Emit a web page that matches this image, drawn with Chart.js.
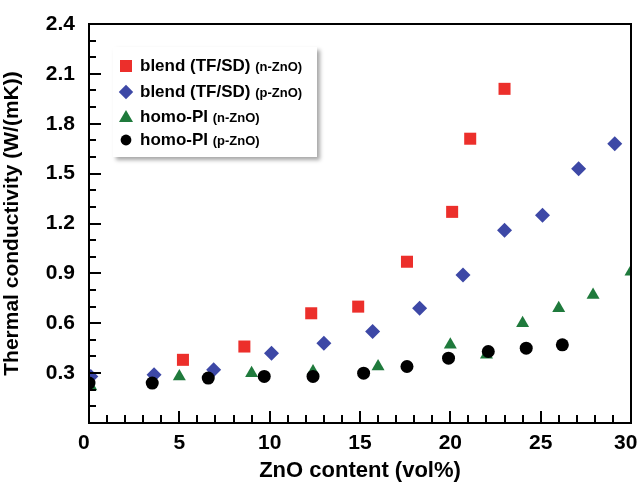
<!DOCTYPE html>
<html>
<head>
<meta charset="utf-8">
<script src="https://cdn.jsdelivr.net/npm/chart.js@4"></script>
<style>
  body { margin: 0; background: #fff; }
  #frame { position: absolute; box-sizing: border-box; border: 2px solid #000; pointer-events: none; }
  .tk { position: absolute; background: #000; pointer-events: none; }
  #legend {
    position: absolute; left: 113px; top: 47px; width: 204px; height: 110px;
    background: #fff; box-shadow: 3px 3px 4px rgba(0,0,0,0.35);
    font-family: "Liberation Sans", Arial, sans-serif; font-weight: bold; color: #000;
  }
  .row { position: absolute; left: 0; height: 20px; line-height: 20px; font-size: 17px; white-space: nowrap; }
  .row small { font-size: 13px; }
  .mk { position: absolute; left: 7px; top: 4px; width: 12px; height: 12px; }
  .row span.t { position: absolute; left: 27px; }
</style>
</head>
<body>
<canvas id="tcChart" width="640" height="484"></canvas>
<div id="frame"></div>
<div id="ticks"></div>
<div id="legend"></div>
<script>
// ZnO content (vol%) and thermal conductivity W/(mK)
const blendNX = [0, 5.2, 8.6, 12.3, 14.9, 17.6, 20.1, 21.1, 23.0];
const blendNY = [0.27, 0.38, 0.46, 0.66, 0.70, 0.97, 1.27, 1.71, 2.01];

const blendPX = [0.1, 3.6, 6.9, 10.1, 13.0, 15.7, 18.3, 20.7, 23.0, 25.1, 27.1, 29.1];
const blendPY = [0.28, 0.29, 0.32, 0.42, 0.48, 0.55, 0.69, 0.89, 1.16, 1.25, 1.53, 1.68];

const homoNX = [0.1, 5.0, 9.0, 12.4, 16.0, 20.0, 22.0, 24.0, 26.0, 27.9, 30.0];
const homoNY = [0.22, 0.28, 0.30, 0.31, 0.34, 0.47, 0.41, 0.60, 0.69, 0.77, 0.91];

const homoPX = [0, 3.5, 6.6, 9.7, 12.4, 15.2, 17.6, 19.9, 22.1, 24.2, 26.2];
const homoPY = [0.24, 0.24, 0.27, 0.28, 0.28, 0.30, 0.34, 0.39, 0.43, 0.45, 0.47];

const seriesNames = ['blend (TF/SD)', 'blend (TF/SD)', 'homo-PI', 'homo-PI'];
const seriesSubs = ['(n-ZnO)', '(p-ZnO)', '(n-ZnO)', '(p-ZnO)'];
const colors = ['#ec2f2b', '#3d48a6', '#1f7a3c', '#000000'];

const pts = (xs, ys) => xs.map((x, i) => ({ x, y: ys[i] }));

const font = { family: '"Liberation Sans", Arial, sans-serif', weight: 'bold' };

const chart = new Chart(document.getElementById('tcChart'), {
  type: 'scatter',
  data: {
    datasets: [
      { data: pts(blendNX, blendNY), pointStyle: 'rect', pointRadius: 8.5, order: 4 },
      { data: pts(blendPX, blendPY), pointStyle: 'rectRot', pointRadius: 7.5, order: 3 },
      { data: pts(homoNX, homoNY), pointStyle: 'triangle', pointRadius: 7.5, order: 2 },
      { data: pts(homoPX, homoPY), pointStyle: 'circle', pointRadius: 6.5, order: 1 }
    ].map((d, i) => Object.assign(d, {
      backgroundColor: colors[i], borderColor: colors[i], borderWidth: 0, pointHoverRadius: d.pointRadius
    }))
  },
  options: {
    responsive: false,
    animation: false,
    layout: { padding: { top: 24, right: 9, left: 0, bottom: 0 } },
    plugins: { legend: { display: false }, tooltip: { enabled: false } },
    scales: {
      x: {
        type: 'linear', min: 0, max: 30,
        grid: { display: false },
        border: { display: false },
        ticks: {
          stepSize: 5, color: '#000', font: { ...font, size: 21 }, padding: 0, maxRotation: 0,
          callback: v => v === 0 ? '0\u2002' : v === 30 ? '30\u2002' : String(v)
        },
        title: { display: true, text: 'ZnO content (vol%)', color: '#000', font: { ...font, size: 22 }, padding: { top: 4, bottom: 0 } },
        afterFit(s) { s.height = 61; s.paddingLeft = 0; s.paddingRight = 0; }
      },
      y: {
        type: 'linear', min: 0, max: 2.4,
        grid: { display: false },
        border: { display: false },
        ticks: {
          stepSize: 0.3, color: '#000', font: { ...font, size: 21 }, padding: 6,
          callback: v => v === 0 ? '' : v.toFixed(1)
        },
        title: { display: true, text: 'Thermal conductivity (W/(mK))', color: '#000', font: { ...font, size: 21 }, padding: { top: 0, bottom: 2 } },
        afterFit(s) { s.width = 89; s.paddingTop = 0; s.paddingBottom = 0; }
      }
    }
  }
});

// frame and inward ticks, placed from the chart's own scales
const a = chart.chartArea;
const xs = chart.scales.x, ys = chart.scales.y;
const frame = document.getElementById('frame');
Object.assign(frame.style, {
  left: (a.left - 1) + 'px', top: (a.top - 1) + 'px',
  width: (a.right - a.left + 2) + 'px', height: (a.bottom - a.top + 2) + 'px'
});
const tickBox = document.getElementById('ticks');
function addTick(left, top, w, h) {
  const t = document.createElement('div');
  t.className = 'tk';
  Object.assign(t.style, { left: left + 'px', top: top + 'px', width: w + 'px', height: h + 'px' });
  tickBox.appendChild(t);
}
for (let v = 1; v < 30; v++) {
  const len = v % 5 === 0 ? 12 : 8;
  addTick(Math.round(xs.getPixelForValue(v)) - 1, a.bottom - len, 2, len);
}
for (let i = 1; i < 24; i++) {
  const len = i % 3 === 0 ? 12 : 7;
  addTick(a.left, Math.round(ys.getPixelForValue(i / 10)) - 1, len, 2);
}

// legend with mixed-size text
const legend = document.getElementById('legend');
const rowTops = [9, 35, 60, 83];
const marks = [
  'background:#ec2f2b;',
  'background:#3d48a6;transform:rotate(45deg) scale(0.85);',
  'width:0;height:0;border-left:7px solid transparent;border-right:7px solid transparent;border-bottom:12px solid #1f7a3c;left:6px;top:3px;',
  'background:#000;border-radius:50%;transform:scale(0.9);'
];
seriesNames.forEach((name, i) => {
  const row = document.createElement('div');
  row.className = 'row';
  row.style.top = rowTops[i] + 'px';
  row.innerHTML = `<i class="mk" style="${marks[i]}"></i><span class="t">${name} <small>${seriesSubs[i]}</small></span>`;
  legend.appendChild(row);
});
</script>
</body>
</html>
